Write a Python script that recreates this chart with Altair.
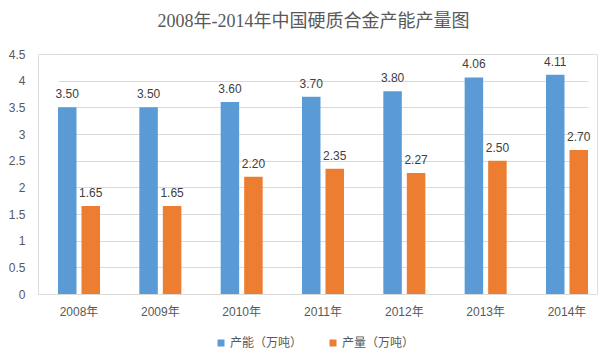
import altair as alt
import pandas as pd

years = ["2008年", "2009年", "2010年", "2011年", "2012年", "2013年", "2014年"]
series_names = ["产能（万吨）", "产量（万吨）"]
capacity = [3.50, 3.50, 3.60, 3.70, 3.80, 4.06, 4.11]
output = [1.65, 1.65, 2.20, 2.35, 2.27, 2.50, 2.70]
colors = ["#5B9BD5", "#ED7D31"]
y_ticks = [0, 0.5, 1, 1.5, 2, 2.5, 3, 3.5, 4, 4.5]

rows = []
for i, y in enumerate(years):
    rows.append({"year": y, "series": series_names[0], "value": capacity[i]})
    rows.append({"year": y, "series": series_names[1], "value": output[i]})
df = pd.DataFrame(rows)

FONT = "Liberation Sans, Noto Sans CJK SC"

x_enc = alt.X("year:N", sort=years, title=None,
              scale=alt.Scale(range=[20, 550], paddingInner=0.4835, paddingOuter=0),
              axis=alt.Axis(labelAngle=0, ticks=False, domain=True, domainColor="#D9D9D9",
                            labelColor="#595959", labelFontSize=12, labelPadding=12,
                            labelFont=FONT, grid=False))
xo_enc = alt.XOffset("series:N", sort=series_names,
                     scale=alt.Scale(paddingInner=0.213, paddingOuter=0))
y_enc = alt.Y("value:Q", title=None,
              scale=alt.Scale(domain=[0, 4.5], nice=False, zero=True),
              axis=alt.Axis(values=y_ticks, labelExpr="datum.value", domain=False, ticks=False,
                            gridColor="#D9D9D9", labelColor="#595959", labelFontSize=12,
                            labelPadding=13, labelFont=FONT, labelOverlap=False,
                            labelFlush=False))

bars = alt.Chart(df).mark_bar().encode(
    x=x_enc, xOffset=xo_enc, y=y_enc,
    color=alt.Color("series:N", sort=series_names,
                    scale=alt.Scale(domain=series_names, range=colors),
                    legend=alt.Legend(title=None, orient="none", direction="horizontal",
                                      legendX=177, legendY=283, symbolType="square",
                                      symbolSize=49, symbolStrokeWidth=0, labelFontSize=12,
                                      labelColor="#595959", labelFont=FONT, columnPadding=24,
                                      labelOffset=3, padding=0)),
)

labels = alt.Chart(df).mark_text(dy=-9, baseline="alphabetic", fontSize=12,
                                 color="#404040", font=FONT).encode(
    x=x_enc, xOffset=xo_enc, y=y_enc,
    text=alt.Text("value:Q", format=".2f"),
)

chart = alt.layer(bars, labels).properties(
    width=559, height=240,
    title=alt.Title("2008年-2014年中国硬质合金产能产量图", fontSize=18, color="#595959",
                    font="Liberation Serif, Noto Sans CJK SC", fontWeight="normal",
                    anchor="middle", offset=17, dx=-4),
    autosize=alt.AutoSizeParams(type="none"),
    padding={"left": 38, "top": 54, "right": 2, "bottom": 60},
).configure_view(stroke=None).configure(background="white")

chart.save("out.html", embed_options={"renderer": "svg", "actions": False})
